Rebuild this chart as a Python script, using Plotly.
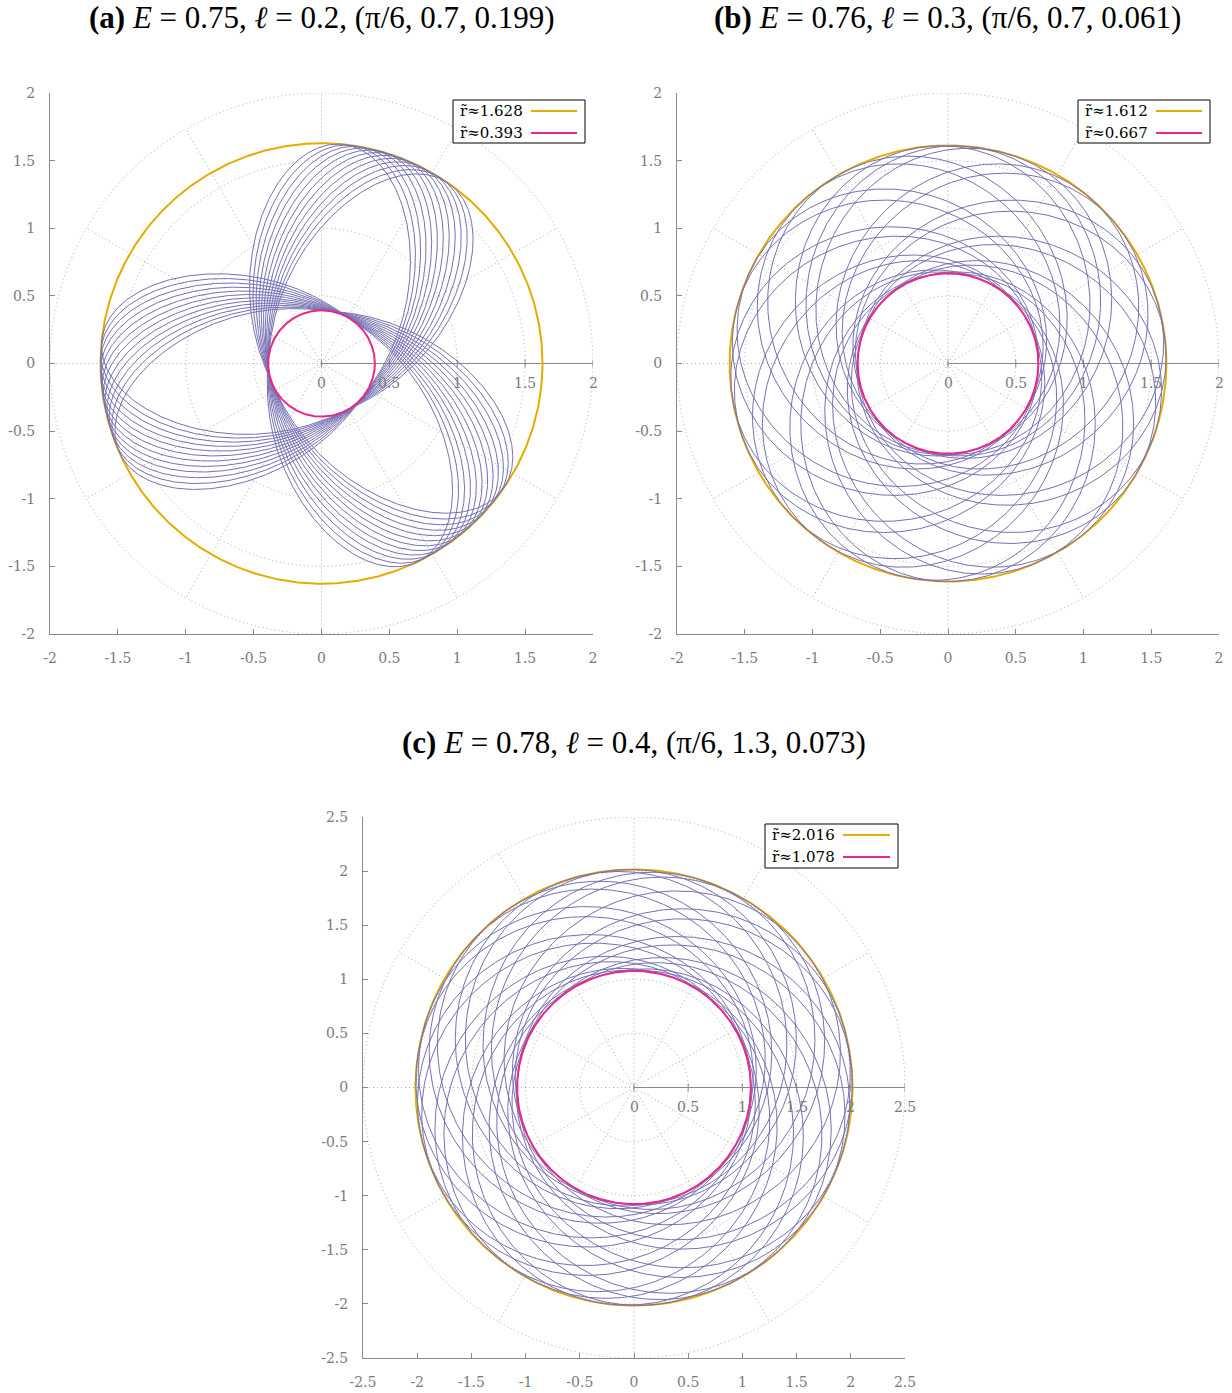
import numpy as np
import plotly.graph_objects as go

# ---------------- data ----------------
panel_tags = ["(a)", "(b)", "(c)"]
energy = ["0.75", "0.76", "0.78"]
ell = ["0.2", "0.3", "0.4"]
initial = ["(π/6, 0.7, 0.199)", "(π/6, 0.7, 0.061)", "(π/6, 1.3, 0.073)"]
r_outer = [1.628, 1.612, 2.016]          # outer turning radius (orange circle)
r_inner = [0.393, 0.667, 1.078]          # inner turning radius (pink circle)
apsidal_angle_deg = [240.9, 395.0, 393.8]   # angle swept between successive pericentres
n_radial_periods = [36, 21, 21]
first_apo_deg = [174.0, 95.0, 60.0]
axis_limit = [2.0, 2.0, 2.5]
ticks_ab = [-2, -1.5, -1, -0.5, 0, 0.5, 1, 1.5, 2]
ticks_c = [-2.5, -2, -1.5, -1, -0.5, 0, 0.5, 1, 1.5, 2, 2.5]
grid_radii_ab = [0.5, 1.0, 1.5, 2.0]
grid_radii_c = [0.5, 1.0, 1.5, 2.0, 2.5]
grid_angles_deg = [30, 60, 90, 120, 150, 180, 210, 240, 270, 300, 330]

# ---------------- layout constants (pixels) ----------------
W, H = 1232, 1393
boxes = [(50, 593, 93, 634), (677, 1219, 93, 634), (363, 905, 817, 1358)]
legend_boxes = [(453, 585, 100, 143), (1078, 1210, 100, 143), (765, 898, 824, 868)]
title_pos = [(322, 18), (947, 18), (634, 742)]

C_TRAJ = "#7570b3"
C_OUT = "#e6ab02"
C_IN = "#e7298a"
C_GRID = "#a8a8a8"
C_AXIS = "#8a8a8a"
C_TXT = "#7a7a7a"
TICK_FONT = "DejaVu Serif"
TITLE_FONT = "Liberation Serif"


def fmt(v):
    return "%g" % v


def px2paper(x, y):
    return x / W, 1 - y / H


fig = go.Figure()
shapes = []
annotations = []

for i in range(3):
    ax = "" if i == 0 else str(i + 1)
    xr, yr = "x" + ax, "y" + ax
    R = axis_limit[i]
    x0, x1, y0, y1 = boxes[i]
    ppu = (x1 - x0) / (2 * R)
    ticks = ticks_c if i == 2 else ticks_ab
    gr = grid_radii_c if i == 2 else grid_radii_ab

    common = dict(range=[-R, R], showgrid=False, zeroline=False, showline=True,
                  linecolor=C_AXIS, linewidth=1, ticks="inside", ticklen=5,
                  tickcolor=C_AXIS, tickwidth=1,
                  tickfont=dict(family=TICK_FONT, size=14, color=C_TXT),
                  tickvals=ticks, ticktext=[fmt(t) for t in ticks],
                  fixedrange=True)
    fig.update_layout(**{
        "xaxis" + ax: dict(domain=[x0 / W, x1 / W], anchor=yr, ticklabelstandoff=11, **common),
        "yaxis" + ax: dict(domain=[1 - y1 / H, 1 - y0 / H], anchor=xr, ticklabelstandoff=11, **common),
    })

    # polar grid
    for g in gr:
        shapes.append(dict(type="circle", xref=xr, yref=yr, x0=-g, x1=g, y0=-g, y1=g,
                           line=dict(color=C_GRID, width=1, dash="1px,3px"), layer="below"))
    for a in grid_angles_deg:
        t = np.deg2rad(a)
        shapes.append(dict(type="line", xref=xr, yref=yr, x0=0, y0=0,
                           x1=R * np.cos(t), y1=R * np.sin(t),
                           line=dict(color=C_GRID, width=1, dash="1px,3px"), layer="below"))
    # radial axis along theta = 0
    shapes.append(dict(type="line", xref=xr, yref=yr, x0=0, y0=0, x1=R, y1=0,
                       line=dict(color=C_AXIS, width=1), layer="below"))
    pol_ticks = [t for t in ticks if t >= 0]
    tl = 4.0 / ppu
    for t in pol_ticks:
        shapes.append(dict(type="line", xref=xr, yref=yr, x0=t, y0=-tl, x1=t, y1=tl,
                           line=dict(color=C_AXIS, width=1), layer="below"))
        annotations.append(dict(x=t, y=0, xref=xr, yref=yr, text=fmt(t), showarrow=False,
                                yshift=-19, font=dict(family=TICK_FONT, size=14, color=C_TXT)))

    th = np.linspace(0, 2 * np.pi, 721)
    fig.add_trace(go.Scatter(x=r_outer[i] * np.cos(th), y=r_outer[i] * np.sin(th),
                             xaxis=xr, yaxis=yr, mode="lines",
                             line=dict(color=C_OUT, width=2), showlegend=False,
                             hoverinfo="skip"))

    # trajectory: precessing orbit between the two turning radii
    A = 0.5 * (1 / r_inner[i] + 1 / r_outer[i])
    B = 0.5 * (1 / r_inner[i] - 1 / r_outer[i])
    dphi = np.deg2rad(apsidal_angle_deg[i])
    k = 2 * np.pi / dphi
    phi_apo = np.deg2rad(first_apo_deg[i])
    phi = np.linspace(phi_apo - dphi / 2, phi_apo - dphi / 2 + n_radial_periods[i] * dphi,
                      n_radial_periods[i] * 500)
    u = A - B * np.cos(k * (phi - phi_apo))
    r = 1 / u
    fig.add_trace(go.Scatter(x=r * np.cos(phi), y=r * np.sin(phi), xaxis=xr, yaxis=yr,
                             mode="lines", line=dict(color=C_TRAJ, width=1),
                             showlegend=False, hoverinfo="skip"))

    fig.add_trace(go.Scatter(x=r_inner[i] * np.cos(th), y=r_inner[i] * np.sin(th),
                             xaxis=xr, yaxis=yr, mode="lines",
                             line=dict(color=C_IN, width=2), showlegend=False,
                             hoverinfo="skip"))

    # key box (text then line sample)
    lx0, lx1, ly0, ly1 = legend_boxes[i]
    px0, py0 = px2paper(lx0, ly0)
    px1, py1 = px2paper(lx1, ly1)
    shapes.append(dict(type="rect", xref="paper", yref="paper", x0=px0, x1=px1, y0=py1, y1=py0,
                       line=dict(color="black", width=1), fillcolor="white", layer="above"))
    rows = [(r_outer[i], C_OUT), (r_inner[i], C_IN)]
    for j, (rv, col) in enumerate(rows):
        yrow = ly0 + 11 + 22 * j
        tx, ty = px2paper(lx0 + 72, yrow)
        annotations.append(dict(x=tx, y=ty, xref="paper", yref="paper", xanchor="right",
                                yanchor="middle", showarrow=False,
                                text="r\u0303\u2248%.3f" % rv,
                                font=dict(family=TICK_FONT, size=15, color="black")))
        sx0, sy = px2paper(lx0 + 78, yrow)
        sx1, _ = px2paper(lx1 - 8, yrow)
        shapes.append(dict(type="line", xref="paper", yref="paper", x0=sx0, x1=sx1, y0=sy, y1=sy,
                           line=dict(color=col, width=2), layer="above"))

    # panel title
    tx, ty = px2paper(*title_pos[i])
    annotations.append(dict(x=tx, y=ty, xref="paper", yref="paper", xanchor="center",
                            yanchor="middle", showarrow=False,
                            text="<b>%s</b> <i>E</i> = %s, <i>ℓ</i> = %s, %s"
                                 % (panel_tags[i], energy[i], ell[i], initial[i]),
                            font=dict(family=TITLE_FONT, size=31, color="black")))

fig.update_layout(width=W, height=H,
                  margin=dict(l=0, r=0, t=0, b=0, pad=0, autoexpand=False),
                  plot_bgcolor="white", paper_bgcolor="white",
                  shapes=shapes, annotations=annotations, showlegend=False)
fig.write_html("out.html", config={"displayModeBar": False},
               post_script="document.body.style.margin='0px';"
                           "document.body.style.overflow='hidden';")
